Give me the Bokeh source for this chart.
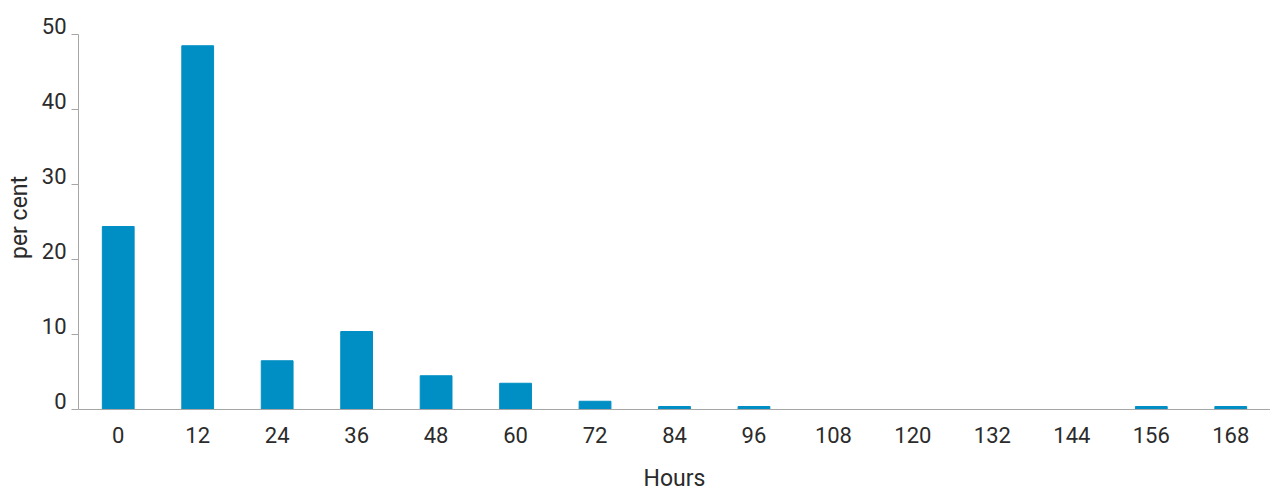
from bokeh.plotting import figure
from bokeh.embed import file_html
from bokeh.resources import INLINE
from bokeh.models import ColumnDataSource, FixedTicker, LinearAxis, Range1d, CustomLabelingPolicy

hours = ["0", "12", "24", "36", "48", "60", "72", "84", "96", "108", "120", "132", "144", "156", "168"]
per_cent = [24.4, 48.5, 6.5, 10.4, 4.5, 3.5, 1.1, 0.4, 0.4, 0, 0, 0, 0, 0.4, 0.4]
y_ticks = [0, 10, 20, 30, 40, 50]

src = ColumnDataSource(dict(x=hours, top=per_cent))

Y_TOP = 51.2
SHIFT = 1.1

p = figure(x_range=hours, y_range=Range1d(0, Y_TOP), output_backend="svg", toolbar_location=None,
           frame_width=1192, frame_height=384, min_border_left=78, min_border_top=25,
           min_border_right=0, min_border_bottom=0)
p.vbar(x="x", top="top", width=0.4, source=src, color="#008fc4")

p.grid.visible = False
p.outline_line_color = None
p.background_fill_color = "white"
p.border_fill_color = "white"

font = "Roboto"
tc = "#2b2b2b"
ac = "#a6a6a6"

# main y axis: line and ticks only
p.yaxis.ticker = FixedTicker(ticks=y_ticks)
p.yaxis.bounds = (0, 50)
p.yaxis.axis_line_color = ac
p.yaxis.major_tick_line_color = ac
p.yaxis.major_tick_out = 7
p.yaxis.major_tick_in = 0
p.yaxis.minor_tick_line_color = None
p.yaxis.major_label_standoff = 0
p.yaxis.major_label_text_font_size = "1px"
p.yaxis.major_label_policy = CustomLabelingPolicy(code="""
    for (const i of indices) { indices.unset(i) }
    return indices
""")

# label axis: tick labels sitting just above each tick line
p.extra_y_ranges = {"lbl": Range1d(-SHIFT, Y_TOP - SHIFT)}
lax = LinearAxis(y_range_name="lbl", ticker=FixedTicker(ticks=y_ticks))
lax.axis_line_color = None
lax.major_tick_line_color = None
lax.minor_tick_line_color = None
lax.major_label_text_font = font
lax.major_label_text_font_size = "22px"
lax.major_label_text_color = tc
lax.major_label_standoff = -5
lax.axis_label = "per cent"
lax.axis_label_text_font = font
lax.axis_label_text_font_size = "23px"
lax.axis_label_text_font_style = "normal"
lax.axis_label_text_color = tc
lax.axis_label_standoff = 6
p.add_layout(lax, "left")

p.xaxis.axis_line_color = ac
p.xaxis.major_tick_line_color = None
p.xaxis.minor_tick_line_color = None
p.xaxis.major_label_text_font = font
p.xaxis.major_label_text_font_size = "22px"
p.xaxis.major_label_text_color = tc
p.xaxis.major_label_standoff = 11
p.xaxis.axis_label = "Hours"
p.xaxis.axis_label_text_font = font
p.xaxis.axis_label_text_font_size = "23px"
p.xaxis.axis_label_text_font_style = "normal"
p.xaxis.axis_label_text_color = tc
p.xaxis.axis_label_standoff = 19

open("out.html", "w").write(file_html(p, INLINE))
